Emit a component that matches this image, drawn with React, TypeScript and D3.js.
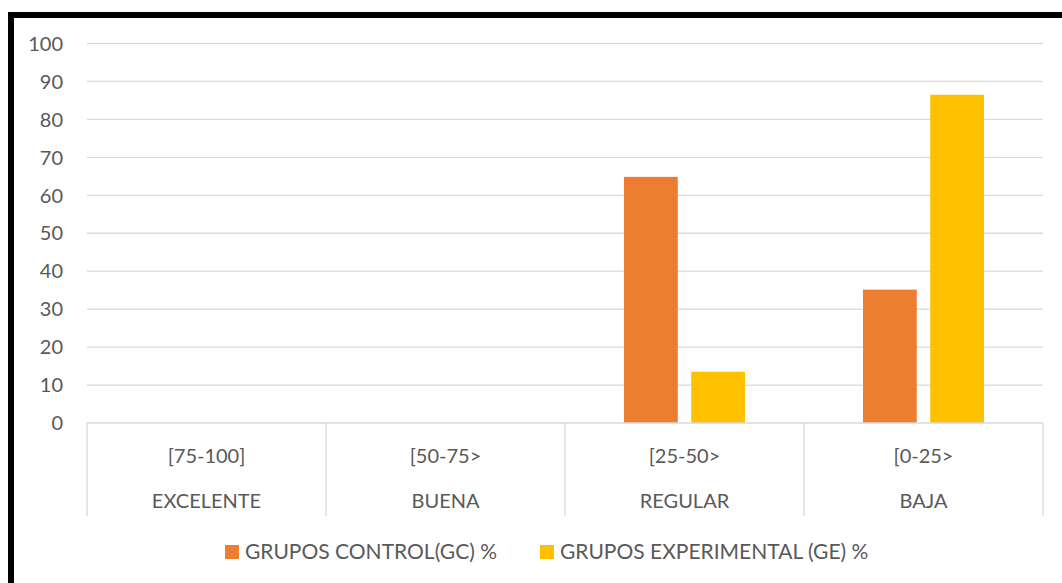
import React from "react";
import * as d3 from "d3";

const ranges = ["[75-100]", "[50-75>", "[25-50>", "[0-25>"];
const levels = ["EXCELENTE", "BUENA", "REGULAR", "BAJA"];
const seriesNames = ["GRUPOS CONTROL(GC) %", "GRUPOS EXPERIMENTAL (GE) %"];
const controlValues = [0, 0, 64.86, 35.14];
const experimentalValues = [0, 0, 13.51, 86.49];
const yTicks = [0, 10, 20, 30, 40, 50, 60, 70, 80, 90, 100];
const colors = ["#ED7D31", "#FFC000"];

const W = 1062;
const H = 583;
const FONT = "Lato, 'Open Sans', sans-serif";
const TXT = "#595959";
const GRID = "#d9d9d9";

export default function App() {
  const plotLeft = 87;
  const plotRight = 1043;
  const y = d3.scaleLinear().domain([0, 100]).range([423, 43.5]);
  const x0 = d3.scaleBand<number>().domain(d3.range(ranges.length)).range([plotLeft, plotRight]).padding(0);
  const x1 = d3
    .scaleBand<number>()
    .domain([0, 1])
    .range([59, x0.bandwidth() - 59])
    .paddingInner(0.2);
  const series = [controlValues, experimentalValues];
  const y0 = y(0);

  return (
    <svg
      width={W}
      height={H}
      style={{ position: "absolute", left: 0, top: 0, background: "#fff" }}
      fontFamily={FONT}
    >
      <rect x={0} y={0} width={W} height={H} fill="#fff" />
      {/* outer frame */}
      <rect x={11} y={15} width={W + 20} height={H + 20} fill="none" stroke="#000" strokeWidth={6} />

      {/* gridlines */}
      {yTicks.map((t) =>
        t === 0 ? null : (
          <line key={t} x1={plotLeft} x2={plotRight} y1={y(t)} y2={y(t)} stroke={GRID} strokeWidth={1.3} />
        )
      )}
      {/* y tick labels */}
      {yTicks.map((t) => (
        <text key={"l" + t} x={63} y={y(t)} dy="0.36em" textAnchor="end" fontSize={20} fill={TXT}>
          {t}
        </text>
      ))}

      {/* bars */}
      {series.map((vals, si) =>
        vals.map((v, ci) =>
          v > 0 ? (
            <rect
              key={si + "-" + ci}
              x={(x0(ci) as number) + (x1(si) as number)}
              y={y(v)}
              width={x1.bandwidth()}
              height={y0 - y(v)}
              fill={colors[si]}
            />
          ) : null
        )
      )}

      {/* category axis */}
      <line x1={plotLeft} x2={plotRight} y1={y0} y2={y0} stroke={GRID} strokeWidth={1.3} />
      {d3.range(ranges.length + 1).map((i) => {
        const xx = i < ranges.length ? (x0(i) as number) : plotRight;
        return <line key={"s" + i} x1={xx} x2={xx} y1={y0} y2={516} stroke={GRID} strokeWidth={1.3} />;
      })}
      {ranges.map((r, i) => (
        <text
          key={"r" + i}
          x={(x0(i) as number) + x0.bandwidth() / 2}
          y={463}
          textAnchor="middle"
          fontSize={20}
          fill={TXT}
        >
          {r}
        </text>
      ))}
      {levels.map((r, i) => (
        <text
          key={"v" + i}
          x={(x0(i) as number) + x0.bandwidth() / 2}
          y={508}
          textAnchor="middle"
          fontSize={20}
          fill={TXT}
        >
          {r}
        </text>
      ))}

      {/* legend */}
      {[225, 540].map((lx, i) => (
        <g key={"lg" + i}>
          <rect x={lx} y={545} width={14} height={14} fill={colors[i]} />
          <text x={lx + 20} y={559} fontSize={21} fill={TXT}>
            {seriesNames[i]}
          </text>
        </g>
      ))}
    </svg>
  );
}
